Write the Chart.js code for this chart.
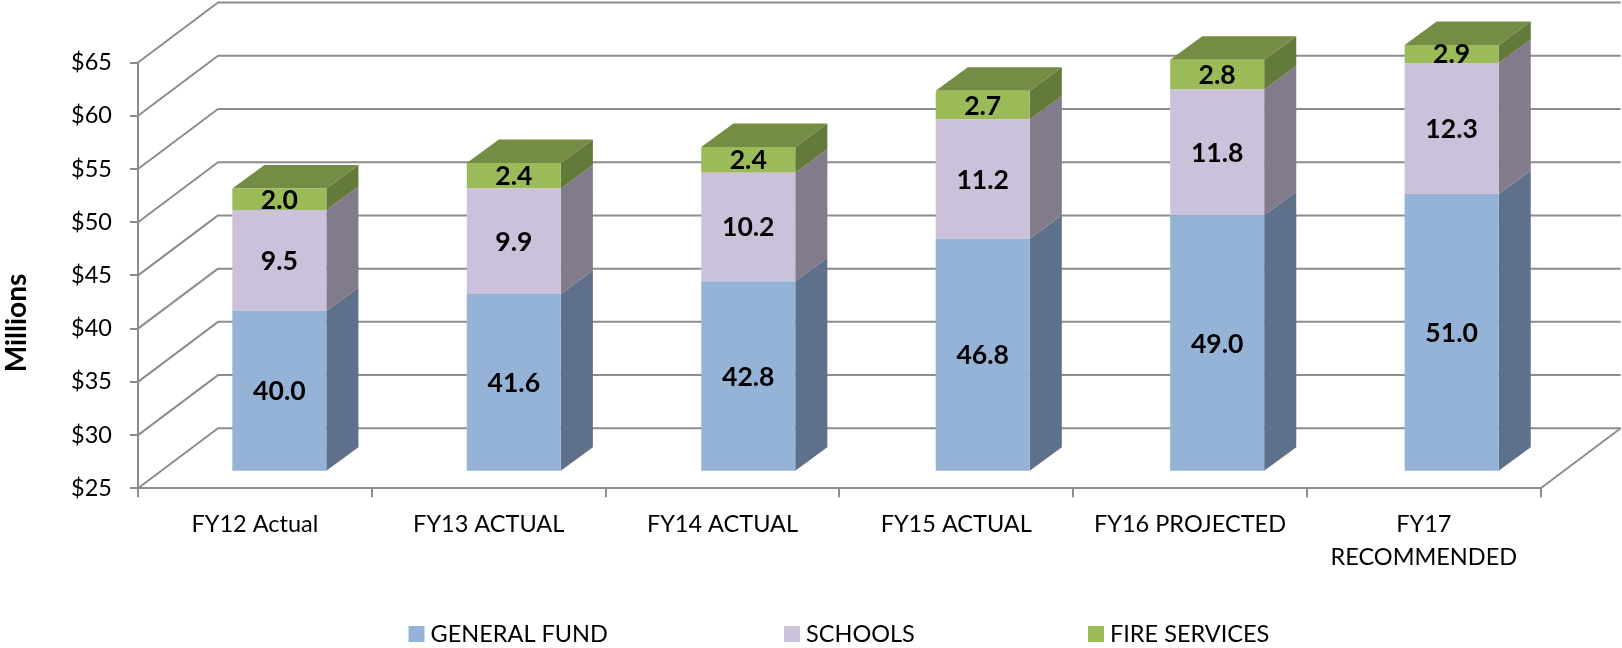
<!DOCTYPE html>
<html>
<head>
<meta charset="utf-8">
<style>html,body{margin:0;padding:0;background:#fff}canvas{display:block}</style>
<script src="https://cdn.jsdelivr.net/npm/chart.js@4"></script>
</head>
<body>
<canvas id="c" width="1622" height="648"></canvas>
<script>
const categories = ['FY12 Actual','FY13 ACTUAL','FY14 ACTUAL','FY15 ACTUAL','FY16 PROJECTED',['FY17','RECOMMENDED']];
const generalFund = [40.0,41.6,42.8,46.8,49.0,51.0];
const schools = [9.5,9.9,10.2,11.2,11.8,12.3];
const fireServices = [2.0,2.4,2.4,2.7,2.8,2.9];
const yMin = 25, yMax = 65, yStep = 5;
const axisTitle = 'Millions';

const FONT = 'Lato, Carlito, sans-serif';
const GRID = '#8c8c8c';
const WALL_DX = 80, WALL_DY = 60;
const BAR_DX = 32, BAR_DY = 23.5;
const SX = 1.0029, TX = 23.7, TY = -17.6;
const sideColors = ['#5f718a','#827b8c','#647a3a'];
const topColor = '#748c43';
const legendPos = [408.5, 784, 1088];

const threeD = {
  id: 'threeD',
  beforeDatasetsDraw(chart) {
    const {ctx, chartArea: a, scales: {y}} = chart;
    ctx.save();
    ctx.strokeStyle = GRID; ctx.lineWidth = 2; ctx.lineJoin = 'round';
    y.ticks.forEach(t => {
      const py = y.getPixelForValue(t.value);
      ctx.beginPath();
      ctx.moveTo(a.left, py);
      ctx.lineTo(a.left + WALL_DX, py - WALL_DY);
      ctx.lineTo(a.right + WALL_DX, py - WALL_DY);
      ctx.stroke();
    });
    const fy = y.getPixelForValue(yMin);
    ctx.beginPath();
    ctx.moveTo(a.right, fy);
    ctx.lineTo(a.right + WALL_DX, fy - WALL_DY);
    ctx.stroke();
    ctx.restore();

    ctx.save();
    ctx.transform(SX, 0, 0, 1, TX, TY);
    chart.data.datasets.forEach((ds, di) => {
      const meta = chart.getDatasetMeta(di);
      meta.data.forEach(el => {
        const top = Math.max(el.y, a.top), bot = Math.min(el.base, a.bottom);
        const xr = el.x + el.width / 2, xl = el.x - el.width / 2;
        ctx.fillStyle = sideColors[di];
        ctx.beginPath();
        ctx.moveTo(xr, bot); ctx.lineTo(xr + BAR_DX, bot - BAR_DY);
        ctx.lineTo(xr + BAR_DX, top - BAR_DY); ctx.lineTo(xr, top);
        ctx.closePath(); ctx.fill();
        if (di === chart.data.datasets.length - 1) {
          ctx.fillStyle = topColor;
          ctx.beginPath();
          ctx.moveTo(xl, top); ctx.lineTo(xl + BAR_DX, top - BAR_DY);
          ctx.lineTo(xr + BAR_DX, top - BAR_DY); ctx.lineTo(xr, top);
          ctx.closePath(); ctx.fill();
        }
      });
    });
  },
  afterDatasetsDraw(chart) {
    const {ctx, chartArea: a} = chart;
    ctx.fillStyle = '#000';
    ctx.font = 'bold 26.5px ' + FONT;
    ctx.textAlign = 'center'; ctx.textBaseline = 'middle';
    chart.data.datasets.forEach((ds, di) => {
      chart.getDatasetMeta(di).data.forEach((el, i) => {
        const top = Math.max(el.y, a.top), bot = Math.min(el.base, a.bottom);
        ctx.fillText(ds.data[i].toFixed(1), el.x, (top + bot) / 2 + 1);
      });
    });
    ctx.restore();

    // axis title
    ctx.save();
    ctx.translate(16.5, 323);
    ctx.rotate(-Math.PI / 2);
    ctx.fillStyle = '#000';
    ctx.font = 'bold 28px ' + FONT;
    ctx.textAlign = 'center'; ctx.textBaseline = 'middle';
    ctx.fillText(axisTitle, 0, 0);
    ctx.restore();

    // legend
    ctx.save();
    ctx.font = '23.5px ' + FONT;
    ctx.textAlign = 'left'; ctx.textBaseline = 'middle';
    chart.data.datasets.forEach((ds, di) => {
      const x = legendPos[di];
      ctx.fillStyle = ds.backgroundColor;
      ctx.fillRect(x, 626, 16, 16);
      ctx.fillStyle = '#000';
      ctx.fillText(ds.label, x + 22, 634);
    });
    ctx.restore();
  }
};

const clip = {left:false, right:false, top:0, bottom:0};
new Chart(document.getElementById('c'), {
  type: 'bar',
  data: {
    labels: categories,
    datasets: [
      {label:'GENERAL FUND', data:generalFund, backgroundColor:'#95b3d7', clip},
      {label:'SCHOOLS', data:schools, backgroundColor:'#ccc1da', clip},
      {label:'FIRE SERVICES', data:fireServices, backgroundColor:'#9bbb59', clip}
    ]
  },
  options: {
    responsive: false,
    animation: false,
    layout: {padding: {left:0, top:62.5, right:81.3, bottom:0}},
    plugins: {legend:{display:false}, tooltip:{enabled:false}},
    datasets: {bar: {categoryPercentage:1, barPercentage:0.401, borderWidth:0}},
    scales: {
      x: {
        stacked: true,
        afterFit(s){ s.height = 159.7; },
        grid: {drawOnChartArea:false, drawTicks:true, tickLength:9, color:GRID, lineWidth:2},
        border: {color:GRID, width:2},
        ticks: {color:'#000', font:{family:FONT, size:23.5, lineHeight:1.4}, maxRotation:0, minRotation:0, autoSkip:false, padding:11}
      },
      y: {
        stacked: true,
        min: yMin, max: yMax,
        afterFit(s){ s.width = 138; },
        grid: {drawOnChartArea:false, drawTicks:true, tickLength:8, color:GRID, lineWidth:2},
        border: {color:GRID, width:2},
        ticks: {color:'#000', stepSize:yStep, font:{family:FONT, size:23.5}, padding:18, callback:v=>'$'+v}
      }
    }
  },
  plugins: [threeD]
});
</script>
</body>
</html>
